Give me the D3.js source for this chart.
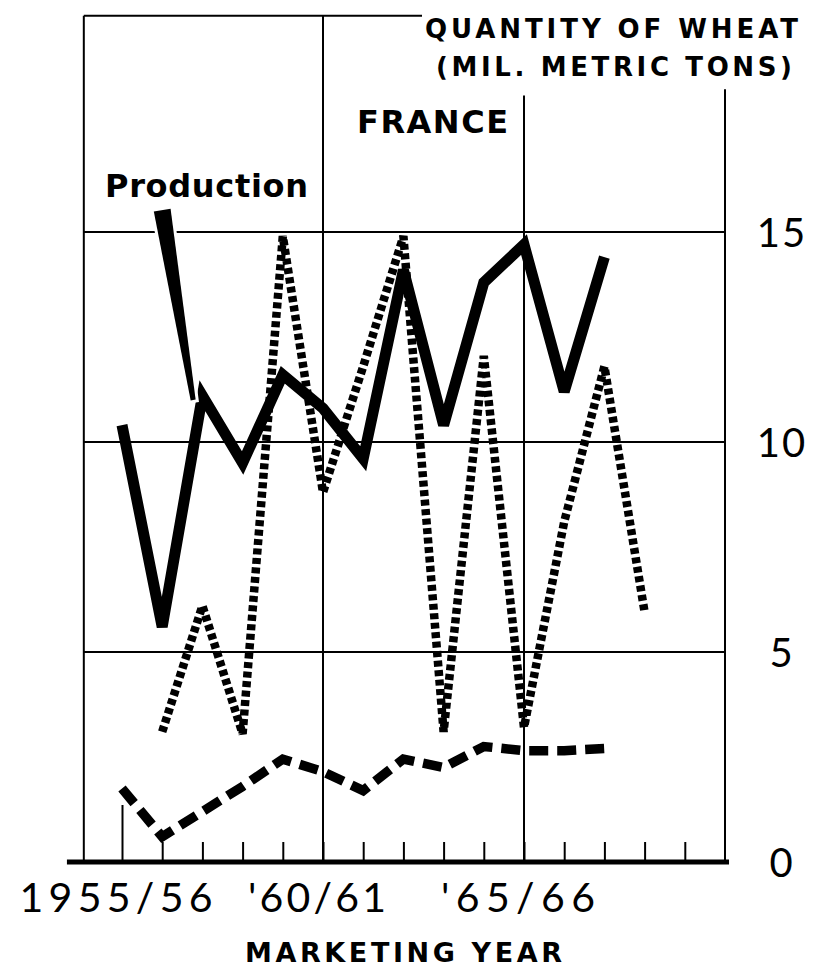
<!DOCTYPE html>
<html>
<head>
<meta charset="utf-8">
<script src="https://cdn.jsdelivr.net/npm/d3@7"></script>
<style>
  html, body { margin: 0; padding: 0; background: #fff; }
  svg { display: block; }
  text { fill: #000; }
</style>
</head>
<body>
<svg id="chart" width="813" height="972"></svg>
<script>
// ---------------- DATA ----------------
const years = ["1955/56","1956/57","1957/58","1958/59","1959/60","1960/61","1961/62","1962/63",
               "1963/64","1964/65","1965/66","1966/67","1967/68","1968/69","1969/70","1970/71"];
const productionYears = years.slice(0, 13);
const production = [10.4, 5.6, 11.1, 9.5, 11.6, 10.8, 9.6, 14.1, 10.4, 13.8, 14.7, 11.2, 14.4];
const dottedYears = years.slice(1, 14);
const dottedSeries = [3.1, 6.1, 3.05, 14.9, 8.8, 11.8, 14.9, 3.1, 12.05, 3.2, 8.1, 11.8, 5.95];
const dashedYears = years.slice(0, 13);
const dashedSeries = [1.75, 0.6, 1.2, 1.8, 2.45, 2.15, 1.7, 2.45, 2.25, 2.75, 2.65, 2.65, 2.7];
const yTicks = [0, 5, 10, 15];
const xTickLabels = ["1955/56", "'60/61", "'65/66"];
const xTickLabelYears = ["1955/56", "1960/61", "1965/66"];
const titleLines = ["QUANTITY OF WHEAT", "(MIL. METRIC TONS)"];
const countryLabel = "FRANCE";
const seriesLabel = "Production";
const xAxisTitle = "MARKETING YEAR";

// ---------------- SCALES ----------------
const svg = d3.select("#chart");
const idx = d => years.indexOf(d);
const x = d3.scaleLinear().domain([0, 15]).range([122, 725]);
const y = d3.scaleLinear().domain([0, 15]).range([862, 232]);
const X = d => x(idx(d));
const headFont = "'DejaVu Sans', Verdana, sans-serif";

// ---------------- FRAME / GRID ----------------
const frame = svg.append("g").attr("stroke", "#000").attr("fill", "none");
const xLeft = x(-0.95), xRight = x(15);
const yTop = y(20.15);
frame.append("line").attr("x1", xLeft).attr("x2", 422).attr("y1", yTop).attr("y2", yTop).attr("stroke-width", 2);
frame.append("line").attr("x1", xLeft).attr("x2", xLeft).attr("y1", yTop).attr("y2", y(0)).attr("stroke-width", 2);
frame.append("line").attr("x1", x(5)).attr("x2", x(5)).attr("y1", yTop).attr("y2", y(0)).attr("stroke-width", 2);
frame.append("line").attr("x1", x(10)).attr("x2", x(10)).attr("y1", y(18.25)).attr("y2", y(0)).attr("stroke-width", 2);
frame.append("line").attr("x1", xRight).attr("x2", xRight).attr("y1", y(18.4)).attr("y2", y(0)).attr("stroke-width", 2);
frame.selectAll("line.h").data([5, 10, 15]).enter().append("line").attr("class", "h")
  .attr("x1", xLeft).attr("x2", xRight).attr("y1", d => y(d)).attr("y2", d => y(d)).attr("stroke-width", 2);

// x axis (ticks up)
const xAxis = d3.axisBottom(x).tickValues(d3.range(0, 15)).tickSize(-20).tickSizeOuter(0).tickFormat("");
const gx = svg.append("g").attr("transform", `translate(0,${y(0)})`).call(xAxis);
gx.select(".domain").remove();
gx.selectAll(".tick line").attr("stroke", "#000").attr("stroke-width", 2);
gx.selectAll(".tick").filter(d => d === 0).select("line").attr("y2", -57);
svg.append("line").attr("x1", x(-1.37)).attr("x2", x(15.1)).attr("y1", y(0)).attr("y2", y(0))
  .attr("stroke", "#000").attr("stroke-width", 5);

// x tick labels
const xLabelWidths = [193, 138, 154];
svg.append("g").selectAll("text").data(xTickLabels).enter().append("text")
  .attr("x", (d, i) => X(xTickLabelYears[i]) - 6)
  .attr("y", 912)
  .attr("text-anchor", "middle")
  .attr("font-family", "Lato, 'Open Sans', sans-serif")
  .attr("font-size", 41)
  .attr("textLength", (d, i) => xLabelWidths[i])
  .attr("lengthAdjust", "spacing")
  .text(d => d);

// x axis title
svg.append("text").attr("x", 245).attr("y", 962)
  .attr("font-family", headFont).attr("font-weight", 700).attr("font-size", 27)
  .attr("textLength", 317).attr("lengthAdjust", "spacing")
  .text(xAxisTitle);

// y tick labels
const yAxis = d3.axisRight(y).tickValues(yTicks).tickSize(0).tickPadding(0).tickFormat(d3.format("d"));
const gy = svg.append("g").attr("transform", "translate(782,0)").call(yAxis);
gy.select(".domain").remove();
gy.selectAll(".tick text")
  .attr("x", 0).attr("dy", "0.36em")
  .attr("text-anchor", "middle")
  .attr("font-family", "Lato, sans-serif").attr("font-size", 40)
  .attr("letter-spacing", 2)
  .attr("fill", "#000");

// titles
svg.append("text").attr("x", 425).attr("y", 38)
  .attr("font-family", headFont).attr("font-weight", 700).attr("font-size", 26)
  .attr("textLength", 373).attr("lengthAdjust", "spacing").text(titleLines[0]);
svg.append("text").attr("x", 436).attr("y", 76)
  .attr("font-family", headFont).attr("font-weight", 700).attr("font-size", 26)
  .attr("textLength", 356).attr("lengthAdjust", "spacing").text(titleLines[1]);
svg.append("text").attr("x", 357).attr("y", 133)
  .attr("font-family", headFont).attr("font-weight", 700).attr("font-size", 32)
  .attr("textLength", 151).attr("lengthAdjust", "spacing").text(countryLabel);
svg.append("text").attr("x", 105).attr("y", 197)
  .attr("font-family", headFont).attr("font-weight", 700).attr("font-size", 32)
  .attr("textLength", 203).attr("lengthAdjust", "spacing").text(seriesLabel);

// ---------------- SERIES ----------------
const line = d3.line().x(d => X(d[0])).y(d => y(d[1]));

// dashed series
svg.append("path")
  .datum(d3.zip(dashedYears, dashedSeries))
  .attr("d", line)
  .attr("fill", "none").attr("stroke", "#000").attr("stroke-width", 9.5)
  .attr("stroke-dasharray", "19,9").attr("stroke-linejoin", "miter");

// dotted series
svg.append("path")
  .datum(d3.zip(dottedYears, dottedSeries))
  .attr("d", line)
  .attr("fill", "none").attr("stroke", "#000").attr("stroke-width", 8.5)
  .attr("stroke-dasharray", "6,3.5").attr("stroke-linejoin", "miter").attr("stroke-miterlimit", 5);

// production
svg.append("path")
  .datum(d3.zip(productionYears, production))
  .attr("d", line)
  .attr("fill", "none").attr("stroke", "#000").attr("stroke-width", 11)
  .attr("stroke-linejoin", "miter").attr("stroke-miterlimit", 3);

// leader from label to production line (tapered), in data units
const leaderTop = [1.0, 15.52], leaderBottom = [1.77, 11.0];
const lx1 = x(leaderTop[0]), ly1 = y(leaderTop[1]), lx2 = x(leaderBottom[0]), ly2 = y(leaderBottom[1]);
const len = Math.hypot(lx2 - lx1, ly2 - ly1);
const nx = -(ly2 - ly1) / len, ny = (lx2 - lx1) / len;
const w1 = 8.5, w2 = 2.5;
const wedge = [[lx1 + nx * w1, ly1 + ny * w1], [lx2 + nx * w2, ly2 + ny * w2],
               [lx2 - nx * w2, ly2 - ny * w2], [lx1 - nx * w1, ly1 - ny * w1]];
svg.append("path").attr("d", "M" + wedge.join("L") + "Z")
  .attr("fill", "#000").attr("stroke", "#fff").attr("stroke-width", 6).attr("paint-order", "stroke");
</script>
</body>
</html>
